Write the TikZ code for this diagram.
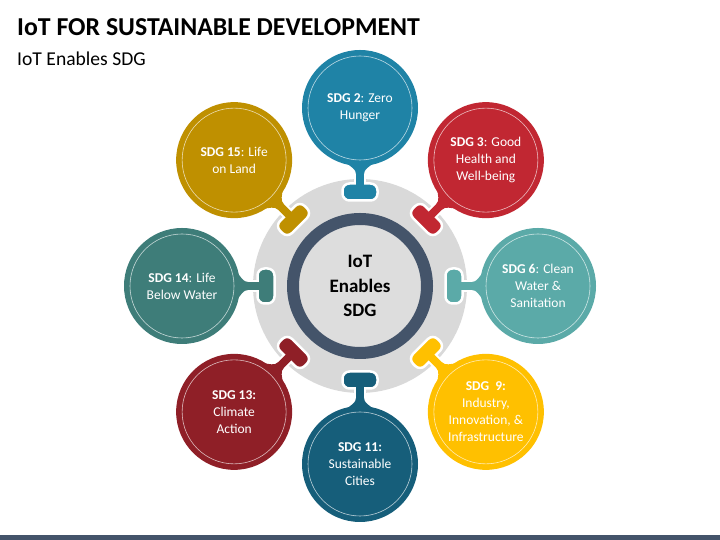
\documentclass[tikz,border=0pt]{standalone}
\usepackage{fontspec}
\setmainfont{Carlito}
\usetikzlibrary{calc,backgrounds}
\definecolor{slate}{HTML}{44546A}
\definecolor{ringgray}{HTML}{D9D9D9}
\definecolor{hubgray}{HTML}{DDDDDD}
\definecolor{hungerblue}{HTML}{1F83A6}
\definecolor{healthred}{HTML}{C12732}
\definecolor{waterteal}{HTML}{5BAAA8}
\definecolor{industryyellow}{HTML}{FFC000}
\definecolor{citiesblue}{HTML}{165E7A}
\definecolor{climatered}{HTML}{8F1F27}
\definecolor{belowteal}{HTML}{3E7D79}
\definecolor{landgold}{HTML}{BF9000}
\tikzset{
  sdg/.style = {circle, minimum size=116pt, inner sep=0pt, text=white, align=center,
    font=\fontsize{13.5}{17}\selectfont},
  knob/.style = {rectangle, rounded corners=7pt, minimum width=35pt, minimum height=17pt,
    draw=white, line width=2.5pt},
  stem/.style = {line width=8pt},
}
\begin{document}
\begin{tikzpicture}[x=1pt, y=1pt]
  \useasboundingbox (0,0) rectangle (720,540);
  \node[anchor=base west, inner sep=0pt, font=\bfseries\fontsize{25.8}{30}\selectfont] (title) at (17,504) {IoT FOR SUSTAINABLE DEVELOPMENT};
  \node[anchor=base west, inner sep=0pt, font=\fontsize{19.6}{23}\selectfont] (subtitle) at (17,474) {IoT Enables SDG};
  \fill[slate] (0,0) rectangle (720,5);
  % hub in the middle
  \node[circle, minimum size=134pt, fill=hubgray, draw=slate, line width=12pt, align=center,
    font=\bfseries\fontsize{19}{24.5}\selectfont] (hub) at (360,254) {IoT\\Enables\\SDG};
  % the goals
  \foreach \a/\n/\c/\txt in {
      90/2/hungerblue/{\textbf{SDG 2}: Zero\\Hunger},
      45/3/healthred/{\textbf{SDG 3}: Good\\Health and\\Well-being},
      0/6/waterteal/{\textbf{SDG 6}: Clean\\Water \&\\Sanitation},
      -45/9/industryyellow/{\textbf{SDG~~9:}\\Industry,\\Innovation, \&\\Infrastructure},
      -90/11/citiesblue/{\textbf{SDG 11:}\\Sustainable\\Cities},
      -135/13/climatered/{\textbf{SDG 13:}\\Climate\\Action},
      180/14/belowteal/{\textbf{SDG 14}: Life\\Below Water},
      135/15/landgold/{\textbf{SDG 15}: Life\\on Land}} {
    \node[sdg, fill=\c] (s\n) at ($(hub)+(\a:178)$) {\txt};
    \draw[white, opacity=0.7, line width=0.6pt] (s\n) circle (52);
  }
  % ring and stems behind
  \begin{scope}[on background layer]
    \fill[ringgray] (hub) circle (107);
    \foreach \a/\n/\c in {90/2/hungerblue, 45/3/healthred, 0/6/waterteal, -45/9/industryyellow,
        -90/11/citiesblue, -135/13/climatered, 180/14/belowteal, 135/15/landgold} {
      \coordinate (p\n) at ($(hub)+(\a:94)$);
      \draw[white, line width=12pt] (p\n) -- (s\n);
      \node[knob, fill=\c, rotate=\a-90] (k\n) at (p\n) {};
      \draw[stem, \c] (k\n.center) -- (s\n.center);
      \fill[\c, shift={(hub)}, rotate=\a] (112,-4) .. controls (117,-4) and (119,-9) .. (124,-15)
        -- (124,15) .. controls (119,9) and (117,4) .. (112,4) -- cycle;
    }
  \end{scope}
\end{tikzpicture}
\end{document}
